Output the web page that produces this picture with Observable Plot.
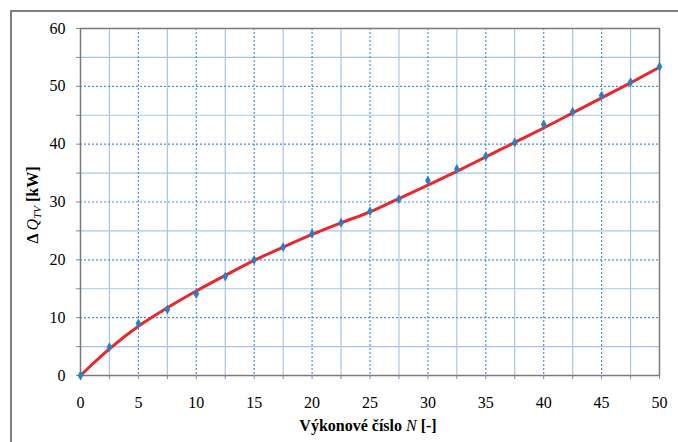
<!DOCTYPE html>
<html>
<head>
<meta charset="utf-8">
<script src="https://cdn.jsdelivr.net/npm/d3@7"></script>
<script src="https://cdn.jsdelivr.net/npm/@observablehq/plot@0.6"></script>
<style>
  html, body { margin: 0; padding: 0; width: 678px; height: 442px; overflow: hidden; background: #fff; }
  #frame { position: absolute; left: 10px; top: 10px; width: 720px; height: 480px; border: 2px solid #808080; box-sizing: border-box; }
  #chart { position: absolute; left: 0; top: 0; }
</style>
</head>
<body>
<div id="frame"></div>
<div id="chart"></div>
<script>
// Measured points
const N = [0, 2.5, 5, 7.5, 10, 12.5, 15, 17.5, 20, 22.5, 25, 27.5, 30, 32.5, 35, 37.5, 40, 42.5, 45, 47.5, 50];
const dQ = [0, 4.9, 9.0, 11.4, 14.1, 17.1, 20.0, 22.2, 24.5, 26.4, 28.4, 30.5, 33.7, 35.7, 37.9, 40.3, 43.4, 45.6, 48.4, 50.7, 53.4];
// Fitted curve
const fitN = [0, 1, 2.5, 5, 7.5, 10, 12.5, 15, 17.5, 20, 22.5, 25, 27.5, 30, 32.5, 35, 37.5, 40, 42.5, 45, 47.5, 50];
const fitQ = [0, 1.9, 4.6, 8.5, 11.7, 14.6, 17.3, 19.9, 22.2, 24.4, 26.4, 28.3, 30.6, 32.9, 35.3, 37.8, 40.3, 42.8, 45.4, 48.0, 50.6, 53.3];
// Tick labels & grid
const xTicks = [0, 5, 10, 15, 20, 25, 30, 35, 40, 45, 50];
const yTicks = [0, 10, 20, 30, 40, 50, 60];
const xMinor = [2.5, 7.5, 12.5, 17.5, 22.5, 27.5, 32.5, 37.5, 42.5, 47.5];
const yMinor = [5, 15, 25, 35, 45, 55];
const xMajor = [5, 10, 15, 20, 25, 30, 35, 40, 45];
const yMajor = [10, 20, 30, 40, 50];
const xTickMarks = [0, 2.5, 5, 7.5, 10, 12.5, 15, 17.5, 20, 22.5, 25, 27.5, 30, 32.5, 35, 37.5, 40, 42.5, 45, 47.5, 50];
const yTickMarks = [0, 5, 10, 15, 20, 25, 30, 35, 40, 45, 50, 55, 60];

const pts = N.map((n, i) => ({n, q: dQ[i]}));
const fit = fitN.map((n, i) => ({n, q: fitQ[i]}));

const fontF = "Liberation Serif";

const chart = Plot.plot({
  width: 678,
  height: 442,
  marginLeft: 80,
  marginRight: 19,
  marginTop: 28,
  marginBottom: 67,
  x: {domain: [0, 50]},
  y: {domain: [0, 60]},
  style: {fontFamily: fontF, fontSize: "16px", color: "#000", background: "transparent"},
  marks: [
    Plot.ruleX(xMinor, {stroke: "#a9c4e6", strokeWidth: 1.2}),
    Plot.ruleY(yMinor, {stroke: "#a9c4e6", strokeWidth: 1.2}),
    Plot.ruleX(xMajor, {stroke: "#4d90d6", strokeWidth: 1.2, strokeDasharray: "2,2"}),
    Plot.ruleY(yMajor, {stroke: "#4d90d6", strokeWidth: 1.2, strokeDasharray: "2,2"}),
    Plot.frame({stroke: "#7a7a7a", strokeWidth: 1.5}),
    Plot.axisX({ticks: xTickMarks, tickSize: 4, tickFormat: () => "", label: null, stroke: "#888"}),
    Plot.axisY({ticks: yTickMarks, tickSize: 4, tickFormat: () => "", label: null, stroke: "#888"}),
    Plot.axisX({ticks: xTicks, tickSize: 0, tickPadding: 21, label: null, fontSize: 16, fontFamily: fontF}),
    Plot.axisY({ticks: yTicks, tickSize: 0, tickPadding: 15, label: null, fontSize: 16, fontFamily: fontF}),
    Plot.line(fit, {x: "n", y: "q", stroke: "#e8282c", strokeWidth: 3, curve: "monotone-x"}),
    Plot.dot(pts, {x: "n", y: "q", symbol: "diamond", fill: "#2a80c4", r: 3})
  ]
});

document.getElementById("chart").appendChild(chart);

const svg = d3.select(chart);
// X axis title
const xt = svg.append("text")
  .attr("x", 368).attr("y", 431)
  .attr("text-anchor", "middle")
  .attr("font-size", 16).attr("font-weight", "bold").attr("fill", "#000");
xt.append("tspan").text("Výkonové číslo ");
xt.append("tspan").attr("font-style", "italic").attr("font-weight", "normal").text("N");
xt.append("tspan").text(" [-]");
// Y axis title
const yt = svg.append("text")
  .attr("transform", "translate(38,205) rotate(-90)")
  .attr("text-anchor", "middle")
  .attr("font-size", 16).attr("font-weight", "bold").attr("fill", "#000");
yt.append("tspan").text("Δ ");
yt.append("tspan").attr("font-style", "italic").attr("font-weight", "normal").text("Q");
yt.append("tspan").attr("font-style", "italic").attr("font-weight", "normal").attr("font-size", 11).attr("dy", 3).text("TV");
yt.append("tspan").attr("dy", -3).text(" [kW]");
// force serif on every text (inline !important)
svg.style("font-family", "Liberation Serif, serif", "important");
svg.selectAll("g, text, tspan").each(function () {
  this.setAttribute("font-family", "Liberation Serif");
  this.style.setProperty("font-family", "'Liberation Serif', serif", "important");
});
</script>
</body>
</html>
